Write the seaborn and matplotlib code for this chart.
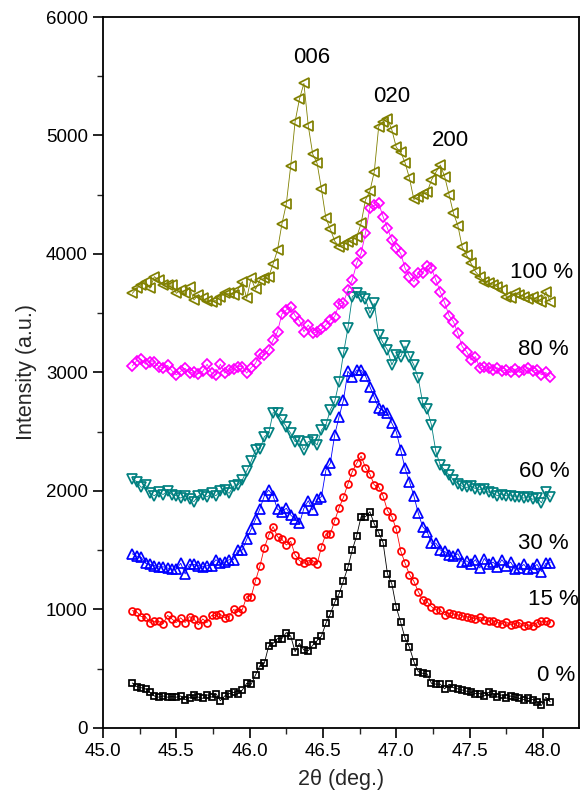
import numpy as np
import pandas as pd
import matplotlib
matplotlib.use("Agg")
import matplotlib.pyplot as plt
from matplotlib.ticker import MultipleLocator, FormatStrFormatter
import seaborn as sns

# 2-theta positions (deg.), instrument step 0.03
two_theta = [45.20, 45.23, 45.26, 45.29, 45.32, 45.35, 45.38, 45.41, 45.44, 45.47,
             45.50, 45.53, 45.56, 45.59, 45.62, 45.65, 45.68, 45.71, 45.74, 45.77,
             45.80, 45.83, 45.86, 45.89, 45.92, 45.95, 45.98, 46.01, 46.04, 46.07,
             46.10, 46.13, 46.16, 46.19, 46.22, 46.25, 46.28, 46.31, 46.34, 46.37,
             46.40, 46.43, 46.46, 46.49, 46.52, 46.55, 46.58, 46.61, 46.64, 46.67,
             46.70, 46.73, 46.76, 46.79, 46.82, 46.85, 46.88, 46.91, 46.94, 46.97,
             47.00, 47.03, 47.06, 47.09, 47.12, 47.15, 47.18, 47.21, 47.24, 47.27,
             47.30, 47.33, 47.36, 47.39, 47.42, 47.45, 47.48, 47.51, 47.54, 47.57,
             47.60, 47.63, 47.66, 47.69, 47.72, 47.75, 47.78, 47.81, 47.84, 47.87,
             47.90, 47.93, 47.96, 47.99, 48.02, 48.05]

i_0 = [380, 350, 340, 330, 300, 270, 260, 270, 260, 265,
       260, 270, 240, 255, 280, 260, 250, 280, 260, 290,
       230, 270, 290, 300, 290, 320, 377, 368, 447, 526,
       546, 692, 714, 754, 754, 805, 776, 644, 714, 658,
       652, 698, 737, 776, 883, 962, 1060, 1133, 1243, 1356,
       1502, 1623, 1783, 1783, 1825, 1722, 1648, 1564, 1300, 1215,
       1018, 892, 757, 681, 560, 475, 461, 456, 377, 370,
       370, 330, 370, 340, 330, 320, 310, 300, 290, 290,
       270, 300, 290, 260, 280, 250, 270, 260, 250, 240,
       250, 240, 220, 190, 260, 220]

i_15 = [990, 980, 940, 940, 890, 900, 900, 880, 950, 920,
        890, 930, 890, 940, 920, 870, 920, 890, 950, 950,
        960, 930, 940, 1000, 980, 1000, 1108, 1108, 1243, 1367,
        1519, 1626, 1699, 1614, 1592, 1544, 1575, 1460, 1412, 1390,
        1412, 1412, 1381, 1530, 1637, 1637, 1750, 1859, 1947, 2059,
        2163, 2234, 2295, 2197, 2141, 2051, 2036, 1958, 1834, 1783,
        1677, 1496, 1390, 1294, 1238, 1150, 1080, 1066, 1024, 996,
        996, 954, 968, 962, 954, 945, 940, 930, 920, 935,
        910, 900, 905, 890, 880, 895, 870, 880, 890, 860,
        870, 860, 890, 900, 900, 890]

i_30 = [1470, 1450, 1440, 1390, 1380, 1370, 1360, 1360, 1350, 1340,
        1340, 1390, 1300, 1380, 1380, 1370, 1360, 1370, 1370, 1420,
        1390, 1400, 1420, 1420, 1500, 1502, 1592, 1677, 1760, 1850,
        1958, 2008, 1958, 1846, 1826, 1854, 1797, 1761, 1727, 1854,
        1918, 1840, 1930, 1952, 2177, 2234, 2473, 2627, 2768, 3010,
        2960, 3020, 3020, 2970, 2880, 2790, 2700, 2680, 2655, 2571,
        2500, 2346, 2191, 2079, 1958, 1812, 1699, 1657, 1558, 1560,
        1502, 1490, 1460, 1450, 1470, 1400, 1410, 1380, 1420, 1350,
        1430, 1380, 1400, 1360, 1420, 1370, 1400, 1340, 1350, 1380,
        1340, 1350, 1380, 1320, 1390, 1395]

i_60 = [2100, 2080, 2030, 2050, 1980, 1960, 1990, 1970, 2000, 1970,
        1960, 1940, 1960, 1930, 1910, 1960, 1970, 1950, 1980, 1960,
        2000, 2010, 1980, 2040, 2050, 2093, 2170, 2250, 2346, 2352,
        2458, 2487, 2661, 2655, 2599, 2543, 2487, 2416, 2424, 2346,
        2416, 2430, 2388, 2515, 2557, 2684, 2754, 2920, 3162, 3373,
        3640, 3670, 3640, 3620, 3500, 3584, 3320, 3250, 3190, 3063,
        3148, 3134, 3224, 3134, 3063, 2950, 2745, 2689, 2557, 2332,
        2219, 2177, 2135, 2093, 2060, 2040, 2030, 2040, 2020, 2010,
        2020, 1990, 1980, 1960, 1970, 1960, 1960, 1950, 1950, 1940,
        1950, 1930, 1940, 1900, 1990, 1950]

i_80 = [3055, 3100, 3110, 3070, 3090, 3090, 3050, 3040, 3060, 3015,
        2980, 3010, 3035, 2995, 3005, 2990, 3010, 3070, 2995, 2980,
        3070, 2995, 3020, 3030, 3050, 3050, 2995, 3040, 3077, 3160,
        3150, 3190, 3274, 3344, 3494, 3527, 3555, 3480, 3437, 3344,
        3401, 3331, 3344, 3364, 3401, 3443, 3471, 3578, 3589, 3696,
        3781, 3921, 4006, 4175, 4390, 4410, 4428, 4315, 4216, 4118,
        4050, 4006, 3879, 3809, 3767, 3837, 3843, 3900, 3879, 3781,
        3682, 3589, 3480, 3429, 3331, 3218, 3176, 3105, 3134, 3035,
        3050, 3040, 3020, 3040, 3010, 3020, 3000, 3030, 3000, 3020,
        3040, 3010, 3020, 2980, 3000, 2960]

i_100 = [3668, 3710, 3740, 3767, 3710, 3809, 3780, 3738, 3740, 3738,
         3668, 3696, 3668, 3718, 3612, 3654, 3626, 3600, 3597, 3610,
         3640, 3668, 3668, 3654, 3700, 3767, 3626, 3795, 3701, 3781,
         3795, 3809, 3916, 4034, 4253, 4422, 4743, 5117, 5310, 5440,
         5080, 4844, 4766, 4546, 4301, 4210, 4110, 4062, 4076, 4104,
         4118, 4141, 4259, 4456, 4530, 4695, 5075, 5117, 5140, 5047,
         4900, 4860, 4770, 4639, 4460, 4480, 4510, 4520, 4624, 4690,
         4751, 4653, 4500, 4343, 4240, 4055, 3990, 3921, 3851, 3809,
         3767, 3752, 3738, 3724, 3696, 3640, 3626, 3668, 3654, 3640,
         3620, 3640, 3610, 3597, 3682, 3597]

series_names = ["0 %", "15 %", "30 %", "60 %", "80 %", "100 %"]
series_values = [i_0, i_15, i_30, i_60, i_80, i_100]
series_colors = ["#000000", "#FF0000", "#0000FF", "#008080", "#FF00FF", "#808000"]
series_markers = ["s", "o", "^", "v", "D", "<"]
series_msize = [5.0, 5.0, 6.5, 6.5, 5.4, 6.5]

# curve labels (x, y)
label_pos_x = [48.09, 48.07, 48.00, 48.01, 48.00, 47.99]
label_pos_y = [447, 1086, 1553, 2163, 3190, 3842]

peak_labels = ["006", "020", "200"]
peak_x = [46.42, 46.97, 47.37]
peak_y = [5662, 5333, 4962]

sns.set_style("ticks")
plt.rcParams["font.family"] = ["Liberation Sans", "DejaVu Sans"]

fig = plt.figure(figsize=(5.8, 8.02), dpi=100)
ax = fig.add_axes([0.1776, 0.0923, 0.8204, 0.8865])

frames = []
for name, vals in zip(series_names, series_values):
    frames.append(pd.DataFrame({"two_theta": two_theta, "intensity": vals, "sample": name}))
df = pd.concat(frames, ignore_index=True)

for name, col, mk, ms in zip(series_names, series_colors, series_markers, series_msize):
    sub = df[df["sample"] == name]
    sns.lineplot(data=sub, x="two_theta", y="intensity", ax=ax, color=col,
                 marker=mk, markersize=ms, markerfacecolor="none",
                 markeredgecolor=col, markeredgewidth=1.25, linewidth=0.6,
                 errorbar=None, sort=False, legend=False)

for name, lx, ly in zip(series_names, label_pos_x, label_pos_y):
    ax.text(lx, ly, name, fontsize=16, ha="center", va="center", color="black")

for t, px, py in zip(peak_labels, peak_x, peak_y):
    ax.text(px, py, t, fontsize=16, ha="center", va="center", color="black")

ax.set_xlim(45.0, 48.245)
ax.set_ylim(0, 6000)
ax.xaxis.set_major_locator(MultipleLocator(0.5))
ax.xaxis.set_minor_locator(MultipleLocator(0.25))
ax.xaxis.set_major_formatter(FormatStrFormatter("%.1f"))
ax.yaxis.set_major_locator(MultipleLocator(1000))
ax.yaxis.set_minor_locator(MultipleLocator(500))

ax.tick_params(axis="both", which="major", direction="out", length=7, width=1.2,
               labelsize=13.5, pad=4, colors="black")
ax.tick_params(axis="both", which="minor", direction="out", length=4, width=1.0)
ax.tick_params(top=False, right=False, which="both")

for s in ax.spines.values():
    s.set_linewidth(1.3)
    s.set_color("black")

ax.set_xlabel("2θ (deg.)", fontsize=15.5, labelpad=6)
ax.set_ylabel("Intensity (a.u.)", fontsize=15.5, labelpad=6)

fig.savefig("out.png", dpi=100)
